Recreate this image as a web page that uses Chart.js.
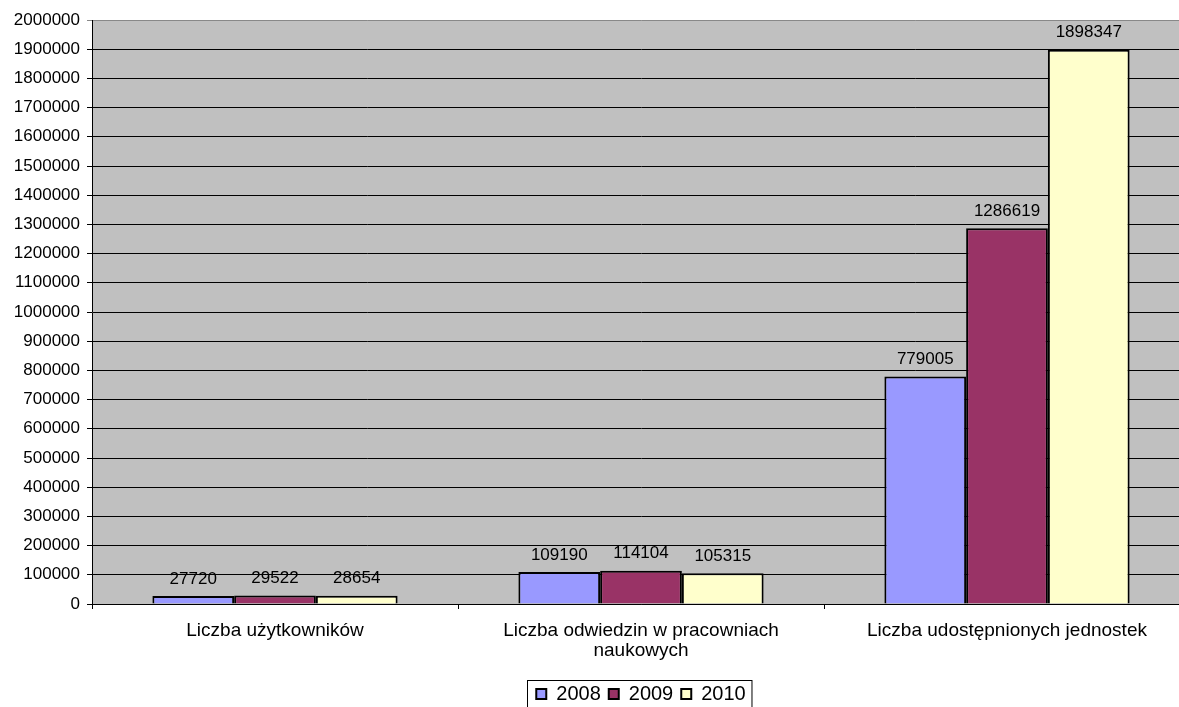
<!DOCTYPE html>
<html>
<head>
<meta charset="utf-8">
<script src="https://cdn.jsdelivr.net/npm/chart.js@4/dist/chart.umd.min.js"></script>
<style>
html,body{margin:0;padding:0;background:#fff;overflow:hidden;}
#wrap{width:1179px;height:707px;overflow:hidden;position:relative;}
#c{position:absolute;left:0;top:0;}
</style>
</head>
<body>
<div id="wrap"><canvas id="c" width="1191" height="714" style="width:1191px;height:714px"></canvas></div>
<script>
const categories = [
  "Liczba użytkowników",
  ["Liczba odwiedzin w pracowniach", "naukowych"],
  "Liczba udostępnionych jednostek"
];
const seriesNames = ["2008", "2009", "2010"];
const values2008 = [27720, 109190, 779005];
const values2009 = [29522, 114104, 1286619];
const values2010 = [28654, 105315, 1898347];
const yMin = 0, yMax = 2000000, yStep = 100000;

const FONT = "'Liberation Sans', Arial, sans-serif";

const valueLabels = {
  id: 'valueLabels',
  afterDatasetsDraw(chart) {
    const ctx = chart.ctx;
    ctx.save();
    ctx.font = "17px " + FONT;
    ctx.fillStyle = "#000";
    ctx.textAlign = "center";
    ctx.textBaseline = "middle";
    chart.data.datasets.forEach((ds, i) => {
      const meta = chart.getDatasetMeta(i);
      meta.data.forEach((bar, j) => {
        ctx.fillText(String(ds.data[j]), bar.x, bar.y - 17);
      });
    });
    ctx.restore();
  }
};

const legendBorder = {
  id: 'legendBorder',
  afterDraw(chart) {
    const hb = chart.legend && chart.legend.legendHitBoxes;
    if (!hb || !hb.length) return;
    const left = Math.min(...hb.map(b => b.left)) - 9;
    const right = Math.max(...hb.map(b => b.left + b.width)) + 6;
    const top = Math.min(...hb.map(b => b.top)) - 4;
    const ctx = chart.ctx;
    ctx.save();
    ctx.strokeStyle = "#000";
    ctx.lineWidth = 1;
    ctx.strokeRect(Math.round(left) + 0.5, Math.round(top) + 0.5, right - left, 60);
    ctx.restore();
  }
};

new Chart(document.getElementById('c'), {
  type: 'bar',
  data: {
    labels: categories,
    datasets: [
      { label: seriesNames[0], data: values2008, backgroundColor: '#9999FF', borderColor: '#000', borderWidth: 2 },
      { label: seriesNames[1], data: values2009, backgroundColor: '#993366', borderColor: '#000', borderWidth: 2 },
      { label: seriesNames[2], data: values2010, backgroundColor: '#FFFFCC', borderColor: '#000', borderWidth: 2 }
    ]
  },
  options: {
    responsive: false,
    animation: false,
    devicePixelRatio: 1,
    layout: { padding: { top: 20, right: 1, left: 0, bottom: 0 } },
    datasets: { bar: { categoryPercentage: 0.67, barPercentage: 1.0 } },
    plugins: {
      legend: {
        position: 'bottom',
        fullSize: false,
        labels: {
          font: { family: FONT, size: 20 },
          color: '#000',
          boxWidth: 10,
          boxHeight: 10,
          padding: 8
        }
      },
      tooltip: { enabled: false },
      title: { display: false }
    },
    scales: {
      x: {
        grid: { display: true, offset: true, drawOnChartArea: false, drawTicks: true, tickLength: 5, color: '#000' },
        border: { color: '#000', width: 1 },
        ticks: { color: '#000', font: { family: FONT, size: 19, lineHeight: 1.05 }, padding: 12, maxRotation: 0, autoSkip: false },
        afterFit(scale) { scale.height = 72; }
      },
      y: {
        min: yMin, max: yMax,
        grid: {
          color: (c) => (c.tick && c.tick.value === yMax ? '#888' : '#000'),
          lineWidth: 1,
          tickLength: 5
        },
        border: { color: '#000', width: 1 },
        ticks: {
          stepSize: yStep,
          color: '#000',
          padding: 7,
          font: { family: FONT, size: 17 },
          callback: (v) => String(v)
        },
        afterFit(scale) { scale.width = 92; }
      }
    }
  },
  plugins: [
    {
      id: 'plotBg',
      beforeDraw(chart) {
        const a = chart.chartArea;
        const ctx = chart.ctx;
        ctx.save();
        ctx.fillStyle = '#C0C0C0';
        ctx.fillRect(a.left, a.top, a.right - a.left, a.bottom - a.top);
        ctx.restore();
      }
    },
    valueLabels,
    legendBorder
  ]
});
</script>
</body>
</html>
